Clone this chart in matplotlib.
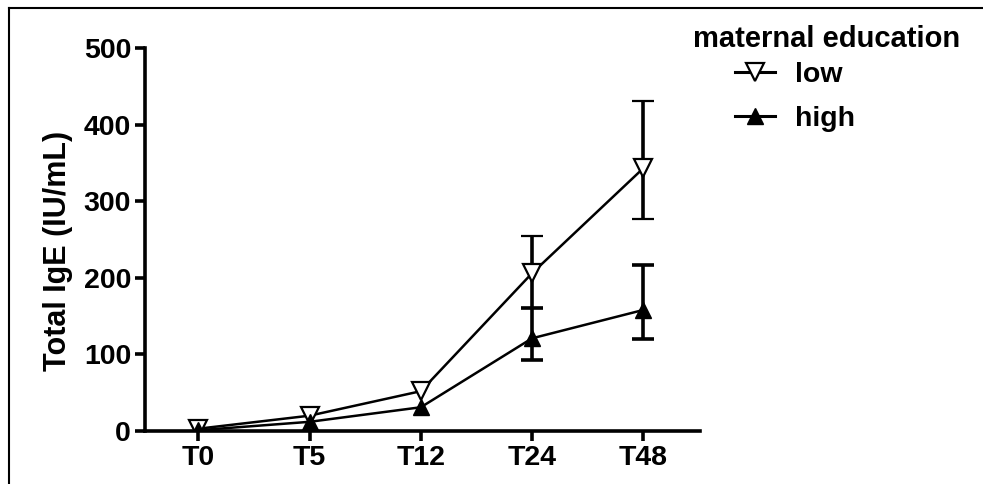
import matplotlib
matplotlib.use("Agg")
import matplotlib.pyplot as plt
from matplotlib.lines import Line2D
import numpy as np

plt.rcParams['font.family'] = ['Liberation Sans', 'DejaVu Sans']
plt.rcParams['font.weight'] = 'bold'

# data (error bars only visible at T24 and T48)
timepoints = ['T0', 'T5', 'T12', 'T24', 'T48']
low_mean = [3, 20, 52, 206, 343]
low_err_lo = [0, 0, 0, 46, 66]
low_err_hi = [0, 0, 0, 48, 88]
high_mean = [1, 12, 31, 121, 158]
high_err_lo = [0, 0, 0, 28, 38]
high_err_hi = [0, 0, 0, 40, 59]

fs = 20.5

fig = plt.figure(figsize=(9.83, 4.84), dpi=100)
ax = fig.add_axes([145 / 983, 1 - 431 / 484, (700 - 145) / 983, (431 - 48) / 484])

x = np.arange(len(timepoints))

low_style = dict(color='black', marker='v', markersize=13, markerfacecolor='white',
                 markeredgecolor='black', markeredgewidth=1.6)
high_style = dict(color='black', marker='^', markersize=12, markerfacecolor='black',
                  markeredgecolor='black')

ax.errorbar(x, low_mean, yerr=[low_err_lo, low_err_hi], lw=1.8, elinewidth=2.6,
            capsize=8, capthick=2.6, errorevery=(3, 1), zorder=3, **low_style)
ax.errorbar(x, high_mean, yerr=[high_err_lo, high_err_hi], lw=1.8, elinewidth=2.6,
            capsize=8, capthick=2.6, errorevery=(3, 1), zorder=4, **high_style)

ax.set_xlim(-0.48, 4.51)
ax.set_ylim(0, 500)
ax.set_xticks(x)
ax.set_xticklabels(timepoints)
ax.set_yticks(np.arange(0, 501, 100))
ax.tick_params(axis='both', labelsize=fs, width=2.6, length=7, pad=3)
for lab in ax.get_xticklabels() + ax.get_yticklabels():
    lab.set_fontweight('bold')

ax.spines['top'].set_visible(False)
ax.spines['right'].set_visible(False)
ax.spines['left'].set_linewidth(2.6)
ax.spines['bottom'].set_linewidth(2.6)

ax.set_ylabel('Total IgE (IU/mL)', fontsize=22, fontweight='bold')
ax.yaxis.set_label_coords(-0.13, 0.47)

# legend: title as separate text, entries indented
fig.text(693 / 983, 1 - 39 / 484, 'maternal education', fontsize=21, fontweight='bold',
         ha='left', va='center')
handles = [Line2D([], [], lw=2.2, **low_style), Line2D([], [], lw=2.2, **high_style)]
leg = ax.legend(handles, ['low', 'high'], loc='upper left',
                bbox_to_anchor=(735 / 983, 1 - 62 / 484),
                bbox_transform=fig.transFigure, frameon=False, fontsize=fs,
                handlelength=1.4, handletextpad=0.7, labelspacing=0.62,
                borderpad=0, borderaxespad=0)
for t in leg.get_texts():
    t.set_fontweight('bold')

# border round the picture (left and top only visible)
fig.add_artist(Line2D([9 / 983, 9 / 983], [0, 1 - 8 / 484], transform=fig.transFigure,
                      color='black', lw=1.5))
fig.add_artist(Line2D([9 / 983, 1], [1 - 8 / 484, 1 - 8 / 484], transform=fig.transFigure,
                      color='black', lw=1.5))

fig.savefig('out.png', dpi=100)
